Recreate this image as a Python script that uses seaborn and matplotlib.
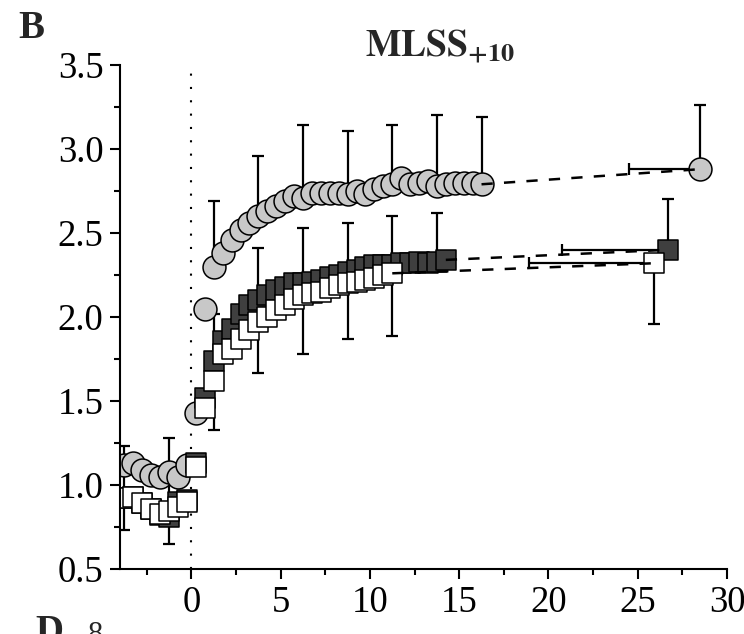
import numpy as np
import pandas as pd
import matplotlib
matplotlib.use("Agg")
import matplotlib.pyplot as plt
from matplotlib.ticker import MultipleLocator
import seaborn as sns

# ---------------- data ----------------
pre_t = [-3.75, -3.25, -2.75, -2.25, -1.75, -1.25, -0.75, -0.25]

circ_t = pre_t + [0.25, 0.75, 1.25, 1.75, 2.25, 2.75, 3.25, 3.75, 4.25, 4.75, 5.25,
                  5.75, 6.25, 6.75, 7.25, 7.75, 8.25, 8.75, 9.25, 9.75, 10.25, 10.75,
                  11.25, 11.75, 12.25, 12.75, 13.25, 13.75, 14.25, 14.75, 15.25,
                  15.75, 16.25]
circ_y = [1.12, 1.13, 1.09, 1.06, 1.05, 1.08, 1.05, 1.12,
          1.43, 2.05, 2.30, 2.38, 2.46, 2.52, 2.56, 2.60, 2.63, 2.66, 2.69,
          2.72, 2.71, 2.74, 2.74, 2.74, 2.74, 2.73, 2.75, 2.73, 2.76, 2.78,
          2.79, 2.83, 2.79, 2.80, 2.81, 2.78, 2.79, 2.80, 2.80, 2.80, 2.79]

dark_t = pre_t + [0.25, 0.75, 1.25, 1.75, 2.25, 2.75, 3.25, 3.75, 4.25, 4.75, 5.25,
                  5.75, 6.25, 6.75, 7.25, 7.75, 8.25, 8.75, 9.25, 9.75, 10.25, 10.75,
                  11.25, 11.75, 12.25, 12.75, 13.25, 13.75, 14.25]
dark_y = [0.92, 0.93, 0.89, 0.86, 0.82, 0.81, 0.90, 0.91,
          1.13, 1.52, 1.74, 1.86, 1.93, 2.02, 2.07, 2.10, 2.13, 2.16, 2.18,
          2.20, 2.20, 2.21, 2.22, 2.24, 2.25, 2.27, 2.28, 2.30, 2.31, 2.31,
          2.31, 2.32, 2.32, 2.33, 2.32, 2.33, 2.34]

white_t = pre_t + [0.25, 0.75, 1.25, 1.75, 2.25, 2.75, 3.25, 3.75, 4.25, 4.75, 5.25,
                   5.75, 6.25, 6.75, 7.25, 7.75, 8.25, 8.75, 9.25, 9.75, 10.25, 10.75,
                   11.25]
white_y = [0.92, 0.93, 0.89, 0.86, 0.83, 0.845, 0.87, 0.90,
           1.11, 1.46, 1.62, 1.78, 1.81, 1.87, 1.92, 1.97, 2.00, 2.04, 2.07,
           2.11, 2.13, 2.14, 2.15, 2.17, 2.19, 2.20, 2.21, 2.22, 2.23, 2.25, 2.26]

# SD error bars (circles & dark squares upward, white squares downward)
circ_err_t = [-3.75, -1.25, 1.25, 3.75, 6.25, 8.75, 11.25, 13.75, 16.25]
circ_err = [0.11, 0.20, 0.39, 0.36, 0.43, 0.38, 0.35, 0.42, 0.40]
dark_err_t = [-3.75, -1.25, 1.25, 3.75, 6.25, 8.75, 11.25, 13.75]
dark_err = [0.20, 0.25, 0.28, 0.31, 0.33, 0.29, 0.29, 0.29]
white_err_t = [-3.75, -1.25, 1.25, 3.75, 6.25, 8.75, 11.25]
white_err = [0.19, 0.195, 0.29, 0.305, 0.35, 0.33, 0.375]

# end-of-exercise points (time, value, time SD, value SD)
circ_end = dict(t=28.5, y=2.88, tsd=4.0, ysd=0.38)
dark_end = dict(t=26.7, y=2.40, tsd=5.95, ysd=0.30)
white_end = dict(t=25.9, y=2.32, tsd=7.0, ysd=0.36)

# ---------------- style ----------------
sns.set_theme(style="ticks")
plt.rcParams['font.family'] = ['Liberation Serif', 'DejaVu Serif']
plt.rcParams['mathtext.fontset'] = 'stix'

fig = plt.figure(figsize=(7.44, 6.34), dpi=100)
ax = fig.add_axes([120 / 744, 1 - 569 / 634, 607 / 744, 504 / 634])

circ_df = pd.DataFrame({"t": circ_t + [circ_end["t"]], "y": circ_y + [circ_end["y"]]})
dark_df = pd.DataFrame({"t": dark_t + [dark_end["t"]], "y": dark_y + [dark_end["y"]]})
white_df = pd.DataFrame({"t": white_t + [white_end["t"]], "y": white_y + [white_end["y"]]})

ebkw = dict(fmt="none", ecolor="black", elinewidth=1.6, capsize=4, capthick=1.6, zorder=1.5)


def draw_err(ts, ys, et, ee, up, end):
    lookup = dict(zip(ts, ys))
    yv = [lookup[t] for t in et]
    zeros = [0] * len(ee)
    yerr = [zeros, ee] if up else [ee, zeros]
    ax.errorbar(et, yv, yerr=yerr, **ebkw)
    ye = [[0], [end["ysd"]]] if up else [[end["ysd"]], [0]]
    ax.errorbar([end["t"]], [end["y"]], yerr=ye, xerr=[[end["tsd"]], [0]], **ebkw)


draw_err(circ_t, circ_y, circ_err_t, circ_err, True, circ_end)
draw_err(dark_t, dark_y, dark_err_t, dark_err, True, dark_end)
draw_err(white_t, white_y, white_err_t, white_err, False, white_end)

sns.scatterplot(data=circ_df, x="t", y="y", ax=ax, marker="o", s=16.5 ** 2,
                color="#c8c8c8", edgecolor="black", linewidth=1.1, zorder=2)
sns.scatterplot(data=dark_df, x="t", y="y", ax=ax, marker="s", s=14.7 ** 2,
                color="#3f3f3f", edgecolor="black", linewidth=1.1, zorder=2.1)
sns.scatterplot(data=white_df, x="t", y="y", ax=ax, marker="s", s=14.7 ** 2,
                color="white", edgecolor="black", linewidth=1.1, zorder=2.2)

for ts, ys, end in [(circ_t, circ_y, circ_end), (dark_t, dark_y, dark_end),
                    (white_t, white_y, white_end)]:
    ax.plot([ts[-1], end["t"]], [ys[-1], end["y"]], color="black", lw=1.8,
            linestyle=(0, (4.5, 4.5)), zorder=3)

ax.axvline(0, color="black", lw=1.5, linestyle=(0, (1, 5.4)), zorder=1)

ax.set_xlim(-4, 30)
ax.set_ylim(0.5, 3.5)
ax.xaxis.set_major_locator(MultipleLocator(5))
ax.xaxis.set_minor_locator(MultipleLocator(2.5))
ax.yaxis.set_major_locator(MultipleLocator(0.5))
ax.yaxis.set_minor_locator(MultipleLocator(0.25))
ax.set_xticks([0, 5, 10, 15, 20, 25, 30])
ax.set_yticks([0.5, 1.0, 1.5, 2.0, 2.5, 3.0, 3.5])
ax.set_yticklabels(["0.5", "1.0", "1.5", "2.0", "2.5", "3.0", "3.5"])
ax.set_xlabel("")
ax.set_ylabel("")
for s in ["top", "right"]:
    ax.spines[s].set_visible(False)
for s in ["left", "bottom"]:
    ax.spines[s].set_linewidth(1.5)
    ax.spines[s].set_color("black")
ax.tick_params(which="major", direction="out", length=7, width=1.5, colors="black",
               labelsize=26.5, pad=5)
ax.tick_params(which="minor", direction="out", length=4.5, width=1.5, colors="black")

fig.text(440 / 744, 1 - 46 / 634, r"$\mathbf{MLSS_{+10}}$", ha="center", va="center",
         fontsize=27)
fig.text(18 / 744, 1 - 29 / 634, "B", fontsize=28, fontweight="bold", va="center",
         ha="left")
fig.text(35 / 744, 1 - 614 / 634, "D", fontsize=28, fontweight="bold", va="top",
         ha="left")
fig.text(88 / 744, 1 - 621 / 634, "8", fontsize=22, va="top", ha="left")

fig.savefig("out.png", dpi=100)
